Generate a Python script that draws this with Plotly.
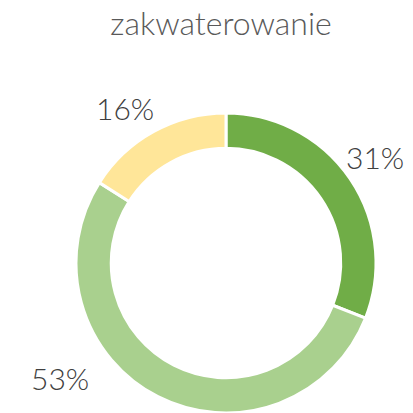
import plotly.graph_objects as go

labels = ["A", "B", "C"]
values = [31, 53, 16]
texts = ["31%", "53%", "16%"]
colors = ["#70AD47", "#A9D08E", "#FFE699"]

W = 413
fig = go.Figure(go.Pie(
    labels=labels, values=values, hole=0.765, sort=False, direction="clockwise",
    rotation=0, marker=dict(colors=colors, line=dict(color="white", width=3)),
    textinfo="none", hoverinfo="none", showlegend=False,
    domain=dict(x=[76/W, 376/W], y=[0, 300/W]),
))

# label positions (paper coords)
label_pos = {"31%": (375, 157), "16%": (125, 108), "53%": (60, 378)}
for t in texts:
    px, py = label_pos[t]
    fig.add_annotation(x=px/W, y=1-py/W, xref="paper", yref="paper", text=t,
                       showarrow=False, xanchor="center", yanchor="middle",
                       font=dict(family="Lato", size=30, color="#404040", weight=300))

fig.update_layout(
    width=W, height=W, margin=dict(l=0, r=0, t=0, b=0),
    paper_bgcolor="white", plot_bgcolor="white",
    title=dict(text="zakwaterowanie", x=221/W, xanchor="center", y=1-24/W, yanchor="middle",
               font=dict(family="Lato", size=32, color="#595959", weight=300)),
)
fig.write_html("out.html")
